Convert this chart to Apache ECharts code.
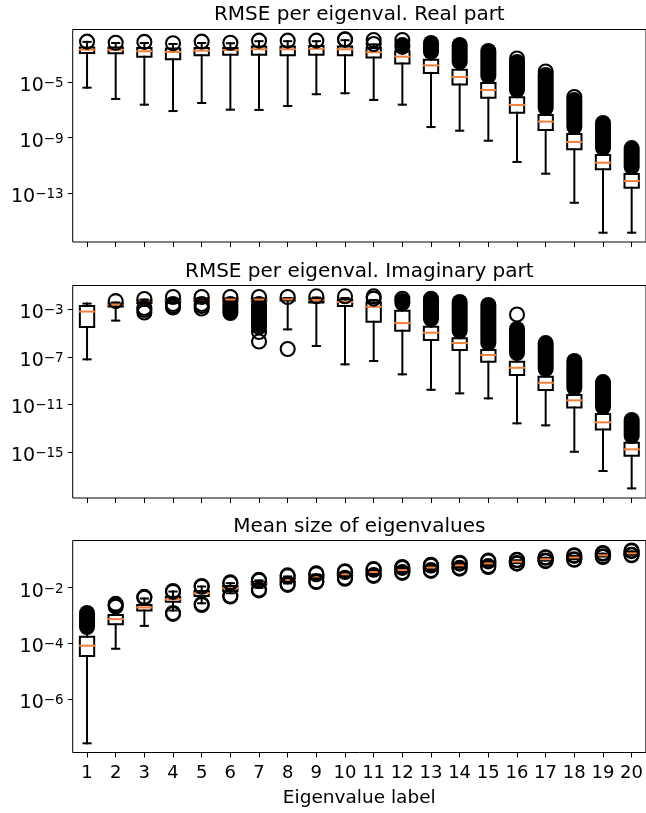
<!DOCTYPE html>
<html>
<head>
<meta charset="utf-8">
<title>Eigenvalue RMSE boxplots</title>
<script src="https://cdn.jsdelivr.net/npm/echarts@6/dist/echarts.min.js"></script>
<style>
  html, body { margin: 0; padding: 0; background: #fff; }
  #chart { width: 646px; height: 813px; }
</style>
</head>
<body>
<div id="chart"></div>
<script>
// eigenvalue labels on the x axis
var labels = ['1','2','3','4','5','6','7','8','9','10','11','12','13','14','15','16','17','18','19','20'];

// all values below are log10 of the plotted quantity

// --- RMSE per eigenval. Real part ---
var realLow  = [-5.41,-6.22,-6.63,-7.09,-6.51,-6.99,-7.01,-6.73,-5.88,-5.81,-6.29,-6.63,-8.24,-8.50,-9.22,-10.75,-11.59,-13.68,-15.83,-15.83];
var realQ1   = [-2.92,-2.94,-3.18,-3.37,-3.08,-3.04,-3.04,-3.08,-3.04,-3.08,-3.25,-3.67,-4.35,-5.18,-6.14,-7.21,-8.45,-9.84,-11.28,-12.60];
var realMed  = [-2.68,-2.70,-2.79,-2.84,-2.75,-2.70,-2.65,-2.65,-2.61,-2.65,-2.86,-3.18,-3.81,-4.64,-5.58,-6.65,-7.85,-9.31,-10.80,-12.12];
var realQ3   = [-2.52,-2.52,-2.56,-2.59,-2.56,-2.56,-2.45,-2.45,-2.41,-2.45,-2.56,-2.79,-3.40,-4.12,-5.07,-6.10,-7.37,-8.74,-10.25,-11.61];
var realHigh = [-2.12,-2.20,-2.20,-2.27,-2.20,-2.22,-2.07,-2.07,-2.07,-2.00,-2.30,-2.56,-2.99,-3.71,-4.71,-5.72,-7.01,-8.38,-9.89,-11.26];
var realOut  = [[-2.10],[-2.18],[-2.12],[-2.22],[-2.10],[-2.18],[-2.03],[-2.03],[-2.03],[-1.93,-1.96],
                [-1.98,-2.27],[-1.98],[],[],[],[-3.31],[-4.25],[-6.08],[],[]];
// dense flier clouds: [top, bottom]
var realBand = [null,null,null,null,null,null,null,null,null,null,
                null,[-2.34,-2.48],[-2.20,-2.84],[-2.34,-3.56],[-2.77,-4.57],[-3.56,-5.58],[-4.50,-6.87],[-6.30,-8.24],[-7.95,-9.75],[-9.75,-11.11]];
var realTicks = [-13, -9, -5];

// --- RMSE per eigenval. Imaginary part ---
var imagLow  = [-7.21,-3.95,-2.68,-2.47,-2.39,-2.39,-2.39,-4.69,-6.09,-7.63,-7.35,-8.47,-9.77,-10.07,-10.49,-12.59,-12.76,-14.98,-16.60,-18.06];
var imagQ1   = [-4.49,-2.77,-2.47,-2.39,-2.31,-2.31,-2.31,-2.26,-2.42,-2.73,-4.05,-4.80,-5.59,-6.43,-7.41,-8.53,-9.79,-11.25,-13.10,-15.32];
var imagMed  = [-3.19,-2.60,-2.35,-2.26,-2.18,-2.18,-2.18,-2.16,-2.22,-2.39,-2.79,-4.16,-4.97,-5.84,-6.85,-7.92,-9.18,-10.66,-12.51,-14.78];
var imagQ3   = [-2.73,-2.52,-2.26,-2.18,-2.10,-2.10,-2.10,-2.10,-2.10,-2.18,-2.42,-3.12,-4.47,-5.44,-6.43,-7.41,-8.67,-10.21,-11.81,-14.22];
var imagHigh = [-2.52,-2.43,-2.18,-2.05,-2.05,-2.05,-2.05,-2.05,-2.01,-2.05,-2.22,-2.64,-4.07,-5.08,-6.09,-6.93,-8.28,-9.87,-11.47,-13.91];
var imagOut  = [[],[-2.31],[-2.14,-2.89,-3.06,-3.27],[-1.97,-2.56,-2.73,-2.85],[-1.97,-2.56,-2.73,-2.94],[-1.97],[-1.97,-4.49,-4.91,-5.71],[-1.97,-6.34],[-1.91],[-1.91],
                [-1.91,-2.10],[-2.11],[],[],[],[-3.44],[],[],[],[]];
var imagBand = [null,null,null,null,null,[-2.56,-3.32],[-2.56,-4.32],null,null,null,
                null,[-2.31,-2.47],[-2.11,-3.82],[-2.39,-4.83],[-2.64,-5.84],[-4.66,-6.68],[-5.84,-8.02],[-7.35,-9.62],[-9.12,-11.22],[-12.31,-13.66]];
var imagTicks = [-15, -11, -7, -3];

// --- Mean size of eigenvalues ---
var meanLow  = [-7.58,-4.19,-3.37,-2.82,-2.56,-2.20,-2.01,-1.85,-1.72,-1.62,-1.54,-1.45,-1.36,-1.28,-1.21,-1.12,-1.03,-0.98,-0.88,-0.82];
var meanQ1   = [-4.45,-3.31,-2.82,-2.51,-2.30,-2.12,-1.90,-1.78,-1.65,-1.56,-1.49,-1.41,-1.32,-1.24,-1.17,-1.10,-1.01,-0.95,-0.87,-0.80];
var meanMed  = [-4.08,-3.13,-2.71,-2.42,-2.20,-2.02,-1.84,-1.72,-1.60,-1.52,-1.44,-1.37,-1.28,-1.20,-1.13,-1.07,-0.98,-0.92,-0.84,-0.77];
var meanQ3   = [-3.76,-2.98,-2.62,-2.33,-2.12,-1.94,-1.80,-1.67,-1.56,-1.47,-1.39,-1.33,-1.24,-1.16,-1.09,-1.04,-0.95,-0.89,-0.81,-0.74];
var meanHigh = [-3.55,-2.83,-2.39,-2.14,-1.96,-1.84,-1.74,-1.60,-1.53,-1.45,-1.34,-1.29,-1.20,-1.13,-1.06,-1.02,-0.93,-0.86,-0.78,-0.70];
var meanOut  = [[],[-2.58,-2.63,-2.68],[-2.33,-2.36],[-2.12,-2.15,-2.91,-2.94],[-1.94,-1.97,-2.59,-2.62],[-1.81,-1.84,-2.29,-2.32],[-1.72,-1.75,-2.07,-2.10],[-1.56,-1.59,-1.87,-1.90],[-1.49,-1.52,-1.77,-1.80],[-1.41,-1.44,-1.65,-1.68],
                [-1.33,-1.36,-1.55,-1.58],[-1.26,-1.29,-1.44,-1.47],[-1.18,-1.21,-1.37,-1.40],[-1.11,-1.14,-1.29,-1.32],[-1.03,-1.06,-1.23,-1.26],[-1.00,-1.02,-1.12,-1.14],[-0.91,-0.93,-1.03,-1.05],[-0.84,-0.86,-0.98,-1.00],[-0.76,-0.78,-0.88,-0.90],[-0.67,-0.69,-0.82,-0.84]];
var meanBand = [[-2.91,-3.41],null,null,null,null,null,null,null,null,null,
                null,null,null,null,null,null,null,null,null,null];
var meanTicks = [-6, -4, -2];

var FONT = 'DejaVu Sans';

function p10(e) { return Math.pow(10, e); }

function lineStyle(color) {
  return { stroke: color, lineWidth: 2, lineCap: 'square', fill: null };
}

// box + whiskers + caps, drawn like a matplotlib boxplot
function renderBox(params, api) {
  var i = api.value(0);
  var pLow = api.coord([i, api.value(1)]);
  var pQ1 = api.coord([i, api.value(2)]);
  var pQ3 = api.coord([i, api.value(4)]);
  var pHigh = api.coord([i, api.value(5)]);
  var band = api.size([1, 1])[0];
  var x = pLow[0], hb = band * 0.25, hc = band * 0.125;
  return {
    type: 'group',
    children: [
      { type: 'line', shape: { x1: x, y1: pQ1[1], x2: x, y2: pLow[1] }, style: lineStyle('#000') },
      { type: 'line', shape: { x1: x, y1: pQ3[1], x2: x, y2: pHigh[1] }, style: lineStyle('#000') },
      { type: 'line', shape: { x1: x - hc, y1: pLow[1], x2: x + hc, y2: pLow[1] }, style: lineStyle('#000') },
      { type: 'line', shape: { x1: x - hc, y1: pHigh[1], x2: x + hc, y2: pHigh[1] }, style: lineStyle('#000') },
      { type: 'rect', shape: { x: x - hb, y: pQ3[1], width: hb * 2, height: pQ1[1] - pQ3[1] },
        style: { stroke: '#000', lineWidth: 2, fill: null } }
    ]
  };
}

function renderMedian(params, api) {
  var i = api.value(0);
  var p = api.coord([i, api.value(1)]);
  var hb = api.size([1, 1])[0] * 0.25;
  return { type: 'line', shape: { x1: p[0] - hb, y1: p[1], x2: p[0] + hb, y2: p[1] }, style: lineStyle('#f07f3a') };
}

// a column of overlapping flier rings, drawn as one rounded bar
function renderBand(params, api) {
  var i = api.value(0);
  var top = api.coord([i, api.value(1)]);
  var bot = api.coord([i, api.value(2)]);
  var r = 8;
  return {
    type: 'rect',
    shape: { x: top[0] - r, y: top[1] - r, width: 2 * r, height: bot[1] - top[1] + 2 * r, r: r },
    style: { fill: '#000' }
  };
}

function panelSeries(g, low, q1, med, q3, high, out, bandList) {
  var boxData = [], medData = [], outData = [], bandData = [];
  for (var i = 0; i < labels.length; i++) {
    boxData.push([i, p10(low[i]), p10(q1[i]), p10(med[i]), p10(q3[i]), p10(high[i])]);
    medData.push([i, p10(med[i])]);
    out[i].forEach(function (e) { outData.push([i, p10(e)]); });
    if (bandList[i]) bandData.push([i, p10(bandList[i][0]), p10(bandList[i][1])]);
  }
  return [
    { type: 'custom', xAxisIndex: g, yAxisIndex: g, renderItem: renderBox, data: boxData,
      encode: { x: 0, y: [1, 2, 3, 4, 5] }, silent: true, clip: false },
    { type: 'custom', xAxisIndex: g, yAxisIndex: g, renderItem: renderBand, data: bandData,
      encode: { x: 0, y: [1, 2] }, silent: true, clip: false },
    { type: 'scatter', xAxisIndex: g, yAxisIndex: g, data: outData, symbol: 'circle', symbolSize: 14,
      itemStyle: { color: 'rgba(0,0,0,0)', borderColor: '#000', borderWidth: 2.1, opacity: 1 },
      silent: true, emphasis: { disabled: true } },
    { type: 'custom', xAxisIndex: g, yAxisIndex: g, renderItem: renderMedian, data: medData,
      encode: { x: 0, y: 1 }, silent: true, clip: false }
  ];
}

function expLabel(v) {
  var e = Math.round(Math.log10(v));
  return '{b|10}{s|' + (e < 0 ? '\u2212' : '') + Math.abs(e) + '}';
}

function yAxisCfg(g, lo, hi, ticks) {
  var vals = ticks.map(p10);
  return {
    type: 'log', logBase: 10, gridIndex: g, min: p10(lo), max: p10(hi),
    axisLine: { show: false },
    splitLine: { show: false },
    axisTick: { show: true, length: 5, customValues: vals, lineStyle: { color: '#000', width: 1 } },
    axisLabel: {
      customValues: vals, margin: 9, formatter: expLabel, padding: [8, 0, 0, 0],
      rich: {
        b: { fontFamily: FONT, fontSize: 19, color: '#000', lineHeight: 19, verticalAlign: 'bottom' },
        s: { fontFamily: FONT, fontSize: 13.5, color: '#000', lineHeight: 14, verticalAlign: 'top' }
      }
    }
  };
}

function xAxisCfg(g, showLabels) {
  var cfg = {
    type: 'category', gridIndex: g, data: labels, boundaryGap: true,
    axisLine: { show: false },
    axisTick: { show: true, alignWithLabel: true, length: 5, lineStyle: { color: '#000', width: 1 } },
    axisLabel: { show: showLabels, interval: 0, margin: 12, fontFamily: FONT, fontSize: 18, color: '#000' },
    splitLine: { show: false }
  };
  if (showLabels) {
    cfg.name = 'Eigenvalue label';
    cfg.nameLocation = 'middle';
    cfg.nameGap = 36;
    cfg.nameTextStyle = { fontFamily: FONT, fontSize: 18.5, color: '#000' };
  }
  return cfg;
}

var gridBase = { left: 72.7, width: 573.3, show: true, borderColor: '#000', borderWidth: 1, backgroundColor: 'transparent' };
function gridAt(top, height) {
  return Object.assign({}, gridBase, { top: top, height: height });
}

function titleAt(text, top) {
  return { text: text, left: 359.3, top: top, textAlign: 'center', padding: 0,
    textStyle: { fontFamily: FONT, fontSize: 20, fontWeight: 'normal', color: '#000' } };
}

var chart = echarts.init(document.getElementById('chart'), null, { renderer: 'canvas' });

var option = {
  animation: false,
  backgroundColor: '#fff',
  title: [
    titleAt('RMSE per eigenval. Real part', 4.5),
    titleAt('RMSE per eigenval. Imaginary part', 261.5),
    titleAt('Mean size of eigenvalues', 517)
  ],
  grid: [gridAt(29.5, 212.5), gridAt(285.5, 212.5), gridAt(540.5, 212)],
  xAxis: [xAxisCfg(0, false), xAxisCfg(1, false), xAxisCfg(2, true)],
  yAxis: [
    yAxisCfg(0, -16.50, -1.23, realTicks),
    yAxisCfg(1, -18.87, -1.00, imagTicks),
    yAxisCfg(2, -7.91, -0.31, meanTicks)
  ],
  series: []
    .concat(panelSeries(0, realLow, realQ1, realMed, realQ3, realHigh, realOut, realBand))
    .concat(panelSeries(1, imagLow, imagQ1, imagMed, imagQ3, imagHigh, imagOut, imagBand))
    .concat(panelSeries(2, meanLow, meanQ1, meanMed, meanQ3, meanHigh, meanOut, meanBand))
};

chart.setOption(option);
</script>
</body>
</html>
